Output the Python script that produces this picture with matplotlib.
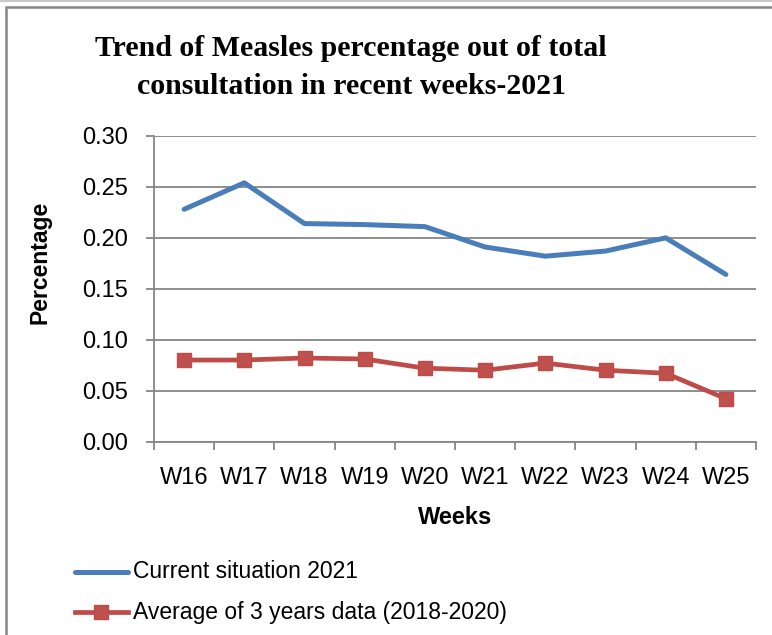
import matplotlib
matplotlib.use("Agg")
from matplotlib import pyplot as plt
from matplotlib.patches import Rectangle
from matplotlib.lines import Line2D
import numpy as np

weeks = ["W16", "W17", "W18", "W19", "W20", "W21", "W22", "W23", "W24", "W25"]
current_2021 = [0.228, 0.254, 0.214, 0.213, 0.211, 0.191, 0.182, 0.187, 0.200, 0.164]
avg_2018_2020 = [0.080, 0.080, 0.082, 0.081, 0.072, 0.070, 0.077, 0.070, 0.067, 0.042]
yticks = [0.00, 0.05, 0.10, 0.15, 0.20, 0.25, 0.30]

grey = "#868686"
blue = "#4A7EBB"
red = "#BE4B48"

fig = plt.figure(figsize=(7.72, 6.35), dpi=100)
ax = fig.add_axes([154/772, 1-441.5/635, 602/772, 305.5/635])

x = np.arange(len(weeks))
ax.plot(x, current_2021, color=blue, lw=3.6, solid_capstyle="round",
        solid_joinstyle="round", label="Current situation 2021")
ax.plot(x, avg_2018_2020, color=red, lw=3.4, marker="s", markersize=10.5,
        markerfacecolor="#C0504D", markeredgecolor=red,
        label="Average of 3 years data (2018-2020)")

ax.set_xlim(-0.5, len(weeks) - 0.5)
ax.set_ylim(0, 0.30)
ax.set_yticks(yticks)
ax.set_yticklabels(["%.2f" % v for v in yticks])
ax.set_xticks(x)
ax.set_xticklabels(weeks)
ax.set_xticks(np.arange(len(weeks) + 1) - 0.5, minor=True)
ax.tick_params(axis="x", which="major", length=0, pad=18)
ax.tick_params(axis="x", which="minor", length=5.5, color=grey, width=1.3)
ax.tick_params(axis="y", length=5.5, color=grey, width=1.3, pad=13)
for lab in ax.get_xticklabels() + ax.get_yticklabels():
    lab.set_fontfamily("Liberation Sans")
    lab.set_fontsize(17)

ax.grid(axis="y", color=grey, lw=1.3)
ax.set_axisbelow(True)
for s in ["top", "right"]:
    ax.spines[s].set_visible(False)
for s in ["left", "bottom"]:
    ax.spines[s].set_color(grey)
    ax.spines[s].set_linewidth(1.3)

fig.text(40/772, 1-262/635, "Percentage", rotation=90, ha="center", va="center",
         fontsize=16.5, fontweight="bold", fontfamily="Liberation Sans")
fig.text(455/772, 1-517/635, "Weeks", ha="center", va="center",
         fontsize=17, fontweight="bold", fontfamily="Liberation Sans")

fig.text(351/772, 1-48/635, "Trend of Measles percentage out of total",
         ha="center", va="center", fontsize=21.5, fontweight="bold",
         fontfamily="Liberation Serif")
fig.text(351/772, 1-86/635, "consultation in recent weeks-2021",
         ha="center", va="center", fontsize=21.5, fontweight="bold",
         fontfamily="Liberation Serif")

# legend drawn by hand below the axes
h1 = Line2D([75/772, 128/772], [1-572/635, 1-572/635], transform=fig.transFigure,
            color=blue, lw=3.6, solid_capstyle="round")
h2 = Line2D([75/772, 128/772], [1-612/635, 1-612/635], transform=fig.transFigure,
            color=red, lw=3.4)
h3 = Line2D([101/772], [1-612/635], transform=fig.transFigure, marker="s",
            markersize=10.5, color="#C0504D", markeredgecolor=red)
fig.lines.extend([h1, h2, h3])
fig.text(133/772, 1-572/635, "Current situation 2021", ha="left", va="center",
         fontsize=16.5, fontfamily="Liberation Sans")
fig.text(133/772, 1-612/635, "Average of 3 years data (2018-2020)", ha="left",
         va="center", fontsize=16.5, fontfamily="Liberation Sans")

# outer frame
fig.lines.append(Line2D([0, 1], [1-1/635, 1-1/635], transform=fig.transFigure,
                        color="#C8C8C8", lw=1.5))
fig.patches.append(Rectangle((6/772, -0.1), 1.2, 1-7/635+0.1, transform=fig.transFigure,
                             fill=False, edgecolor=grey, lw=1.8))

fig.savefig("out.png", dpi=100)
